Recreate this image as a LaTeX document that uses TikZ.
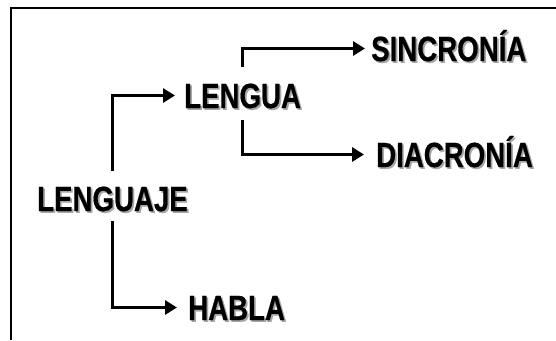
\documentclass[tikz,border=0pt]{standalone}
\usepackage{fontspec}
\usepackage{graphicx}
\setmainfont{Liberation Sans}[BoldFeatures={FakeBold=0.6}]
\usetikzlibrary{arrows.meta,calc}
\newcommand\shtxt[1]{\scalebox{0.79}[1]{\rlap{\hspace{2.2pt}\raisebox{-1.8pt}{\color{black!35}#1}}#1}}
\tikzset{
  lbl/.style={anchor=base west, inner sep=0pt, text height=25pt, text depth=0pt,
    font=\fontsize{35}{38}\selectfont\bfseries},
  arr/.style={line width=3.6pt, -{Triangle[length=12pt,width=14pt]}},
  frame/.style={line width=2pt}
}
\begin{document}
\begin{tikzpicture}[x=1pt,y=1pt]
\useasboundingbox (0,0) rectangle (556,-340);
\draw[frame] (10.5,-340) coordinate (fb) -- (10.5,-8) coordinate (fc) -- (556,-8) coordinate (fr);
\node[lbl] (lenguaje) at (37,-211) {\shtxt{LENGUAJE}};
\node[lbl] (lengua) at (184,-108) {\shtxt{LENGUA}};
\node[lbl] (habla) at (188,-320) {\shtxt{HABLA}};
\node[lbl] (sinc) at (371,-61) {\shtxt{SINCRONÍA}};
\node[lbl] (diac) at (376,-167) {\shtxt{DIACRONÍA}};
\draw[arr] ([yshift=15pt]lenguaje.north) |- ([xshift=-9pt]lengua.west);
\draw[arr] ([yshift=-10pt]lenguaje.south) |- ([xshift=-11pt]habla.west);
\draw[arr] ([yshift=16pt]lengua.north) |- ([xshift=-6pt]sinc.west);
\draw[arr] ([yshift=-12pt]lengua.south) |- ([xshift=-12pt]diac.west);
\end{tikzpicture}
\end{document}
